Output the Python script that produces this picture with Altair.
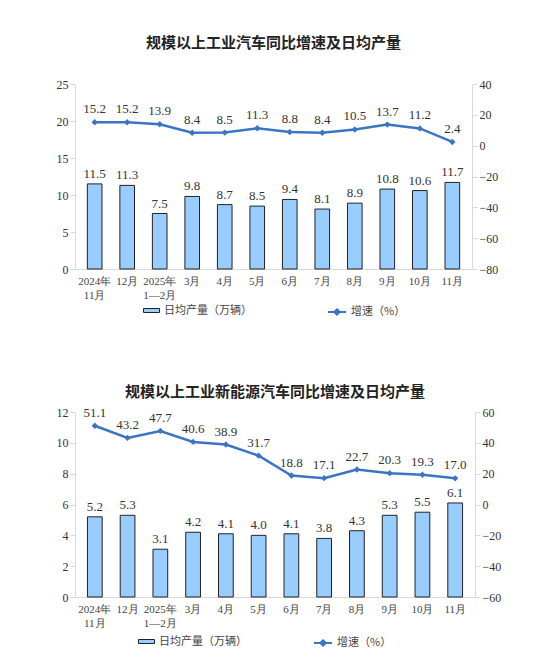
import altair as alt
import pandas as pd

# months on the x axis (two-line labels split on \n)
months = ["2024年\n11月", "12月", "2025年\n1—2月", "3月", "4月", "5月",
          "6月", "7月", "8月", "9月", "10月", "11月"]

# 规模以上工业汽车
car_output = [11.5, 11.3, 7.5, 9.8, 8.7, 8.5, 9.4, 8.1, 8.9, 10.8, 10.6, 11.7]
car_growth = [15.2, 15.2, 13.9, 8.4, 8.5, 11.3, 8.8, 8.4, 10.5, 13.7, 11.2, 2.4]

# 规模以上工业新能源汽车
nev_output = [5.2, 5.3, 3.1, 4.2, 4.1, 4.0, 4.1, 3.8, 4.3, 5.3, 5.5, 6.1]
nev_growth = [51.1, 43.2, 47.7, 40.6, 38.9, 31.7, 18.8, 17.1, 22.7, 20.3, 19.3, 17.0]

BAR_NAME = "日均产量（万辆）"
LINE_NAME = "增速（%）"
BAR_COLOR = "#99CCFF"
LINE_COLOR = "#3A75C5"
NUM_FONT = "'Liberation Serif', 'Times New Roman', serif"
CJK_FONT = "Noto Sans CJK SC"

BAR_SYMBOL = "M-1,-0.25H1V0.25H-1Z"
LINE_SYMBOL = "M-1,0H1M0,-0.3L0.3,0L0,0.3L-0.3,0Z"


def panel(title, output, growth, left_max, left_step, right_min, right_max,
          width, left_extent, title_offset, legend_y, bar_lx, line_lx):
    df = pd.DataFrame({
        "month": months,
        "output": output,
        "growth": growth,
        "bar": BAR_NAME,
        "line": LINE_NAME,
    })

    x = alt.X("month:N", sort=months,
              scale=alt.Scale(paddingInner=0.55, paddingOuter=0.38),
              axis=alt.Axis(title=None, labelAngle=0,
                            labelExpr="split(datum.label, '\\n')",
                            labelFont=NUM_FONT, labelFontSize=11,
                            labelColor="#444", labelLineHeight=14,
                            domainColor="#d9d9d9", ticks=False, labelPadding=6))
    base = alt.Chart(df).encode(x=x)

    left_ticks = list(range(0, left_max + 1, left_step))
    left_y = alt.Y("output:Q",
                   scale=alt.Scale(domain=[0, left_max], nice=False),
                   axis=alt.Axis(title=None, grid=False, labelOverlap=False,
                                 values=left_ticks, tickCount=len(left_ticks),
                                 labelFont=NUM_FONT, labelFontSize=12,
                                 labelColor="#333", domainColor="#d9d9d9",
                                 tickColor="#d9d9d9", tickSize=5,
                                 minExtent=left_extent, maxExtent=left_extent))

    bars = base.mark_bar(stroke="#222", strokeWidth=1).encode(
        y=left_y,
        color=alt.Color("bar:N",
                        scale=alt.Scale(domain=[BAR_NAME], range=[BAR_COLOR]),
                        legend=alt.Legend(title=None, orient="none",
                                          legendX=bar_lx, legendY=legend_y,
                                          symbolType=BAR_SYMBOL, symbolSize=256,
                                          symbolStrokeColor="#222",
                                          symbolStrokeWidth=1,
                                          labelFont=CJK_FONT, labelFontSize=11,
                                          labelColor="#444")),
    )
    bar_text = base.mark_text(dy=-10, font=NUM_FONT, fontSize=13,
                              color="#333").encode(
        y=left_y, text=alt.Text("output:Q", format=".1f"))

    right_ticks = list(range(right_min, right_max + 1, 20))
    right_y = alt.Y("growth:Q",
                    scale=alt.Scale(domain=[right_min, right_max], nice=False),
                    axis=alt.Axis(title=None, grid=False, orient="right",
                                  labelOverlap=False,
                                  values=right_ticks, tickCount=len(right_ticks),
                                  labelFont=NUM_FONT, labelFontSize=12,
                                  labelColor="#333", domainColor="#d9d9d9",
                                  tickColor="#d9d9d9", tickSize=5))

    line = base.mark_line(strokeWidth=2.5).encode(
        y=right_y,
        stroke=alt.Stroke("line:N",
                          scale=alt.Scale(domain=[LINE_NAME], range=[LINE_COLOR]),
                          legend=alt.Legend(title=None, orient="none",
                                            legendX=line_lx, legendY=legend_y,
                                            symbolType=LINE_SYMBOL, symbolSize=324,
                                            symbolStrokeWidth=2,
                                            symbolFillColor=LINE_COLOR,
                                            labelFont=CJK_FONT, labelFontSize=11,
                                            labelColor="#444")),
    )
    points = base.mark_point(shape="diamond", filled=True, size=40,
                             color=LINE_COLOR, opacity=1).encode(y=right_y)
    line_text = base.mark_text(dy=-13, font=NUM_FONT, fontSize=13,
                               color="#333").encode(
        y=right_y, text=alt.Text("growth:Q", format=".1f"))

    left = alt.layer(bars, bar_text)
    right = alt.layer(line, points, line_text)

    return alt.layer(left, right).resolve_scale(y="independent").properties(
        width=width, height=185,
        title=alt.TitleParams(title, font=CJK_FONT, fontSize=15,
                              fontWeight="bold", color="#222",
                              offset=title_offset),
    )


top = panel("规模以上工业汽车同比增速及日均产量", car_output, car_growth,
            25, 5, -80, 40, 397, 22, 27, 218, 68, 252)
bottom = panel("规模以上工业新能源汽车同比增速及日均产量", nev_output, nev_growth,
               12, 2, -60, 60, 400, 27, 6, 221, 63, 238)

chart = alt.vconcat(top, bottom, spacing=66).resolve_scale(
    color="independent", stroke="independent"
).resolve_legend(
    color="independent", stroke="independent"
).properties(
    padding={"left": 40, "top": 28, "right": 5, "bottom": 5}
).configure_view(stroke=None)

chart.save("out.html", embed_options={"renderer": "svg", "actions": False})
